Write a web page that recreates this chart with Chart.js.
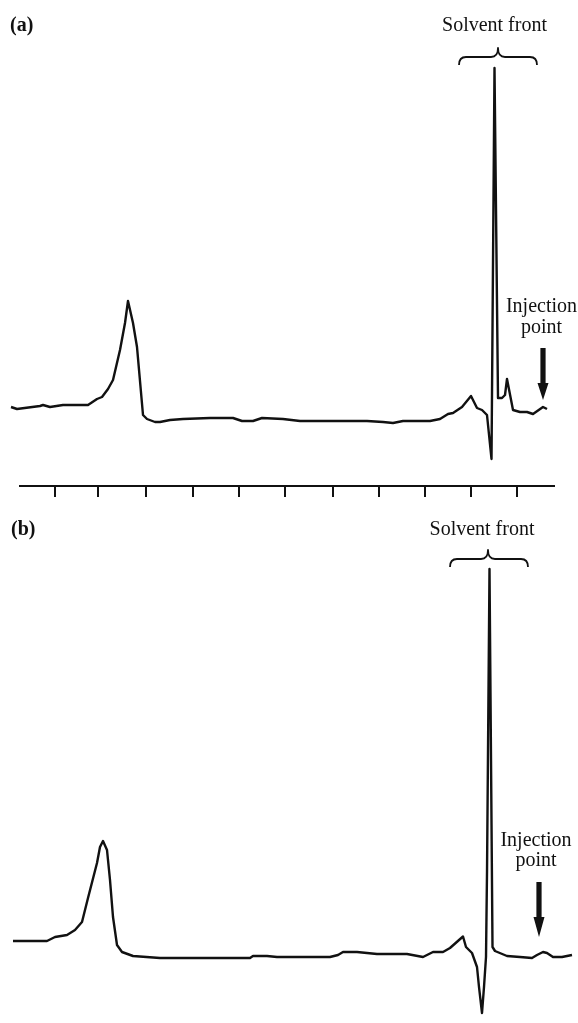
<!DOCTYPE html>
<html>
<head>
<meta charset="utf-8">
<script src="https://cdn.jsdelivr.net/npm/chart.js@4/dist/chart.umd.min.js"></script>
<style>
  html, body { margin: 0; padding: 0; background: #fff; }
  #wrap { position: relative; width: 578px; height: 1023px; overflow: hidden; }
  canvas { position: absolute; left: 0; }
  #ca { top: 0; }
  #cb { top: 500px; }
</style>
</head>
<body>
<div id="wrap">
  <canvas id="ca" width="578" height="500"></canvas>
  <canvas id="cb" width="578" height="523"></canvas>
</div>
<script>
// ---- Data (x = retention position, y = detector response) ----
const timeA = [11,17,40,43,50,63,88,97,102,108,113,120,125,128,133,137,143,147,155,160,170,183,210,233,242,253,262,283,300,367,383,393,403,417,430,440,448,453,462,471,477,482,487,491.5,494.5,498,500,502,505,507,513,520,527,533,543,547];
const signalA = [79,77,80,81,79,81,81,87,89,97,106,136,163,185,163,139,71,67,64,64,66,67,68,68,65,65,68,67,65,65,64,63,65,65,65,67,72,73,79,90,78,76,71,27,418,88,88,88,91,107,76,74,74,72,79,77];

const timeB = [13,47,55,67,75,82,88,97,100,103,107,110,113,117,122,133,160,250,253,267,277,330,338,343,357,377,407,423,433,443,450,463,466,472,477,479,482,484,486,487,489.5,492.5,495,507,520,532,537,543,547,553,562,572];
const signalB = [17,17,21,23,28,36,60,95,111,117,108,78,41,13,6,2,0,0,2,2,1,1,3,6,6,4,4,1,6,6,10,21.5,11,5,-9,-29,-55,-29,1,85,389,11,7,2,1,0,3,6,5,1,1,3];

const axisTicksA = [55,98,146,193,239,285,333,379,425,471,517];

const panelLabels = ['(a)', '(b)'];
const frontText = 'Solvent front';
const injectionText = ['Injection', 'point'];

// ---- Annotation placement (in data units of each panel) ----
const annotA = {
  label: { x: 10, y: 455 },
  front: { from: 459, to: 537, tip: 498, yEnd: 421, yMid: 429, yTip: 438, textX: 494.5, textY: 455 },
  inj: { textX: 541.5, y1: 174, y2: 153, x: 543, top: 138, head: 103, tip: 86 }
};
const annotB = {
  label: { x: 11, y: 423 },
  front: { from: 450, to: 528, tip: 488, yEnd: 391, yMid: 399, yTip: 408, textX: 482, textY: 423 },
  inj: { textX: 536, y1: 112, y2: 92, x: 539, top: 76, head: 41, tip: 21 }
};

const X_MIN = 20, X_MAX = 554;
const FONT = '"Liberation Serif", "Times New Roman", serif';
const INK = '#111';

function toPoints(xs, ys) { return xs.map((x, i) => ({ x: x, y: ys[i] })); }

const annotPlugin = {
  id: 'annot',
  afterDatasetsDraw(chart, args, opts) {
    const a = opts.cfg;
    if (!a) return;
    const ctx = chart.ctx;
    const xs = chart.scales.x, ys = chart.scales.y;
    const px = v => xs.getPixelForValue(v);
    const py = v => ys.getPixelForValue(v);
    ctx.save();
    ctx.fillStyle = INK;
    ctx.strokeStyle = INK;
    // panel label
    ctx.font = 'bold 20px ' + FONT;
    ctx.textAlign = 'left';
    ctx.textBaseline = 'alphabetic';
    ctx.fillText(opts.label, px(a.label.x), py(a.label.y));
    // solvent front text
    ctx.font = '20px ' + FONT;
    ctx.textAlign = 'center';
    ctx.fillText(frontText, px(a.front.textX), py(a.front.textY));
    // brace
    const f = a.front;
    const x0 = px(f.from), x1 = px(f.to), xt = px(f.tip);
    const yE = py(f.yEnd), yM = py(f.yMid), yT = py(f.yTip);
    const r = 7;
    ctx.lineWidth = 1.8;
    ctx.lineJoin = 'round';
    ctx.beginPath();
    ctx.moveTo(x0, yE);
    ctx.quadraticCurveTo(x0, yM, x0 + r, yM);
    ctx.lineTo(xt - r, yM);
    ctx.quadraticCurveTo(xt, yM, xt, yT);
    ctx.quadraticCurveTo(xt, yM, xt + r, yM);
    ctx.lineTo(x1 - r, yM);
    ctx.quadraticCurveTo(x1, yM, x1, yE);
    ctx.stroke();
    // injection text
    const j = a.inj;
    ctx.fillText(injectionText[0], px(j.textX), py(j.y1));
    ctx.fillText(injectionText[1], px(j.textX), py(j.y2));
    // arrow
    const ax = px(j.x);
    const sw = 2.6, hw = 5.5;
    ctx.beginPath();
    ctx.moveTo(ax - sw, py(j.top));
    ctx.lineTo(ax + sw, py(j.top));
    ctx.lineTo(ax + sw, py(j.head));
    ctx.lineTo(ax + hw, py(j.head));
    ctx.lineTo(ax, py(j.tip));
    ctx.lineTo(ax - hw, py(j.head));
    ctx.lineTo(ax - sw, py(j.head));
    ctx.closePath();
    ctx.fill();
    ctx.restore();
  }
};

function makeChart(id, xs, ys, yMin, yMax, showAxis, annot, label) {
  return new Chart(document.getElementById(id), {
    type: 'scatter',
    data: {
      datasets: [{
        data: toPoints(xs, ys),
        showLine: true,
        borderColor: INK,
        borderWidth: 2.4,
        pointRadius: 0,
        tension: 0,
        borderJoinStyle: 'round',
        clip: false
      }]
    },
    options: {
      responsive: false,
      animation: false,
      devicePixelRatio: 1,
      layout: { padding: { left: X_MIN, right: 578 - X_MAX, top: 0, bottom: 0 } },
      plugins: {
        legend: { display: false },
        tooltip: { enabled: false },
        annot: { cfg: annot, label: label }
      },
      scales: {
        x: {
          type: 'linear',
          bounds: 'data',
          position: { y: 0 },
          display: showAxis,
          afterDataLimits: s => { s.min = X_MIN; s.max = X_MAX; },
          afterBuildTicks: s => {
            s.ticks = axisTicksA.map(v => ({ value: v }));
            s.min = X_MIN; s.max = X_MAX;
          },
          ticks: { display: false },
          grid: { drawOnChartArea: false, drawTicks: true, tickLength: 10, color: INK, lineWidth: 2 },
          border: { display: true, color: INK, width: 2 }
        },
        y: {
          type: 'linear',
          display: false,
          min: yMin,
          max: yMax
        }
      }
    },
    plugins: [annotPlugin]
  });
}

makeChart('ca', timeA, signalA, -14, 486, true, annotA, panelLabels[0]);
makeChart('cb', timeB, signalB, -65, 458, false, annotB, panelLabels[1]);
</script>
</body>
</html>
